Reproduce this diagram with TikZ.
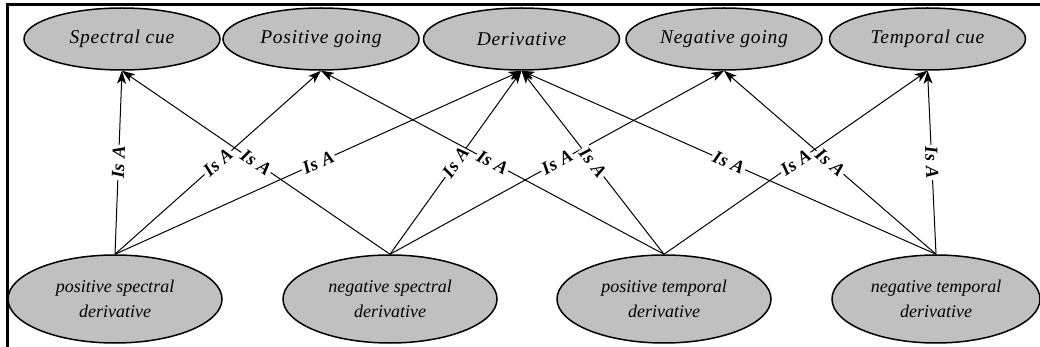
\documentclass[tikz,border=0pt]{standalone}
\usepackage{fontspec}
\setmainfont{Liberation Serif}
\usetikzlibrary{shapes.geometric,arrows.meta}
\definecolor{nodegray}{RGB}{192,192,192}
\tikzset{
  topnode/.style={ellipse, draw=black, line width=1.5pt, fill=nodegray, minimum width=196pt, minimum height=62pt, inner sep=0pt, font=\fontsize{19.5}{21}\selectfont\itshape\addfontfeature{LetterSpace=4}},
  botnode/.style={ellipse, draw=black, line width=1.5pt, fill=nodegray, minimum width=214pt, minimum height=88pt, inner sep=0pt, align=center, font=\fontsize{18}{25}\selectfont\itshape},
  isa/.style={-{Stealth[length=13pt,width=9pt,inset=3.5pt]}, line width=1pt, black},
  lbl/.style={sloped, fill=white, inner sep=1.5pt, font=\fontsize{18.5}{20}\selectfont\bfseries\itshape\addfontfeature{LetterSpace=3}}
}
\begin{document}
\begin{tikzpicture}[x=1pt,y=-1pt]
\useasboundingbox (0,0) rectangle (1040,347);
\fill[white] (0,0) rectangle (1040,347);
% frame (top and left only)
\draw[line width=3.5pt] (6,4.5) -- (1040,4.5);
\draw[line width=3pt] (7.5,3) -- (7.5,347);
% top nodes
\node[topnode] (sc) at (122,39) {Spectral cue};
\node[topnode] (pg) at (321,39) {Positive going};
\node[topnode] (de) at (521.5,39) {Derivative};
\node[topnode] (ng) at (724,39) {Negative going};
\node[topnode] (tc) at (927.5,39) {Temporal cue};
% bottom nodes
\node[botnode] (psd) at (115,299) {positive spectral\\derivative};
\node[botnode] (nsd) at (390,299) {negative spectral\\derivative};
\node[botnode] (ptd) at (664,299) {positive temporal\\derivative};
\node[botnode, minimum width=208pt] (ntd) at (936,299) {negative temporal\\derivative};
% edges
\draw[isa] (psd.north) -- node[lbl] {Is A} (sc.south);
\draw[isa] (psd.north) -- node[lbl] {Is A} (pg.south);
\draw[isa] (psd.north) -- node[lbl] {Is A} (de.south);
\draw[isa] (nsd.north) -- node[lbl] {Is A} (sc.south);
\draw[isa] (nsd.north) -- node[lbl] {Is A} (de.south);
\draw[isa] (nsd.north) -- node[lbl] {Is A} (ng.south);
\draw[isa] (ptd.north) -- node[lbl] {Is A} (pg.south);
\draw[isa] (ptd.north) -- node[lbl] {Is A} (de.south);
\draw[isa] (ptd.north) -- node[lbl] {Is A} (tc.south);
\draw[isa] (ntd.north) -- node[lbl] {Is A} (de.south);
\draw[isa] (ntd.north) -- node[lbl] {Is A} (ng.south);
\draw[isa] (ntd.north) -- node[lbl] {Is A} (tc.south);
\end{tikzpicture}
\end{document}
